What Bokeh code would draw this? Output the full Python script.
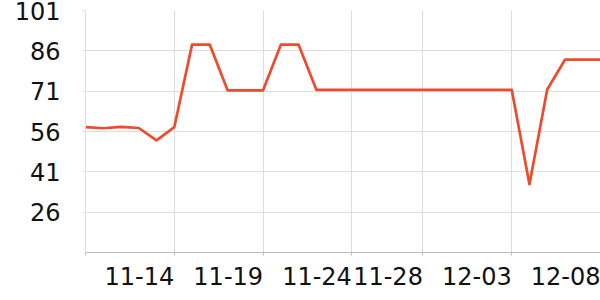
from bokeh.plotting import figure
from bokeh.models import Range1d, FixedTicker
from bokeh.embed import file_html
from bokeh.resources import INLINE

dates = ["11-09", "11-10", "11-11", "11-12", "11-13", "11-14", "11-15", "11-16", "11-17", "11-18",
         "11-19", "11-20", "11-21", "11-22", "11-23", "11-24", "11-25", "11-26", "11-27", "11-28",
         "11-29", "11-30", "12-01", "12-02", "12-03", "12-04", "12-05", "12-06", "12-07", "12-08"]
values = [57.6, 57.2, 57.7, 57.3, 52.7, 57.6, 88.3, 88.3, 71.3, 71.3,
          71.3, 88.3, 88.3, 71.5, 71.5, 71.5, 71.5, 71.5, 71.5, 71.5,
          71.5, 71.5, 71.5, 71.5, 71.5, 36.4, 71.6, 82.7, 82.7, 82.7]
x_tick_labels = ["11-14", "11-19", "11-24", "11-28", "12-03", "12-08"]
y_ticks = [26, 41, 56, 71, 86, 101]
y_min, y_max = 11, 101

xs = list(range(len(dates)))
x_ticks = [dates.index(d) for d in x_tick_labels]

FONT = "DejaVu Sans"
GRID = "#dddddd"

p = figure(width=600, height=300, output_backend="svg", toolbar_location=None,
           x_range=Range1d(0, len(dates) - 1), y_range=Range1d(y_min, y_max),
           min_border_left=85, min_border_right=0, min_border_top=10, min_border_bottom=48)
p.outline_line_color = None
p.background_fill_color = "white"
p.border_fill_color = "white"

p.line(xs, values, line_color="#ee4a2c", line_width=2.7, line_join="round")

p.xaxis.ticker = FixedTicker(ticks=[0] + x_ticks)
p.xaxis.major_label_overrides = {0: ""} | {t: lab for t, lab in zip(x_ticks, x_tick_labels)}
p.yaxis.ticker = FixedTicker(ticks=y_ticks)
p.xgrid.ticker = FixedTicker(ticks=[0] + x_ticks)
p.xgrid.grid_line_color = GRID
p.ygrid.grid_line_color = GRID
p.xaxis.minor_tick_line_color = None
p.yaxis.minor_tick_line_color = None
p.xaxis.axis_line_color = "#bbbbbb"
p.xaxis.major_tick_line_color = "#bbbbbb"
p.xaxis.major_tick_out = 3
p.xaxis.major_tick_in = 0
p.yaxis.axis_line_color = GRID
p.yaxis.major_tick_line_color = GRID
p.yaxis.major_tick_out = 3
p.yaxis.major_tick_in = 0
for ax in (p.xaxis, p.yaxis):
    ax.major_label_text_font = FONT
    ax.major_label_text_font_size = "24px"
    ax.major_label_text_color = "#111111"

p.xaxis.major_label_orientation = 0.0
p.xaxis.major_label_standoff = 20
p.yaxis.major_label_standoff = 22

open("out.html", "w").write(file_html(p, INLINE))
